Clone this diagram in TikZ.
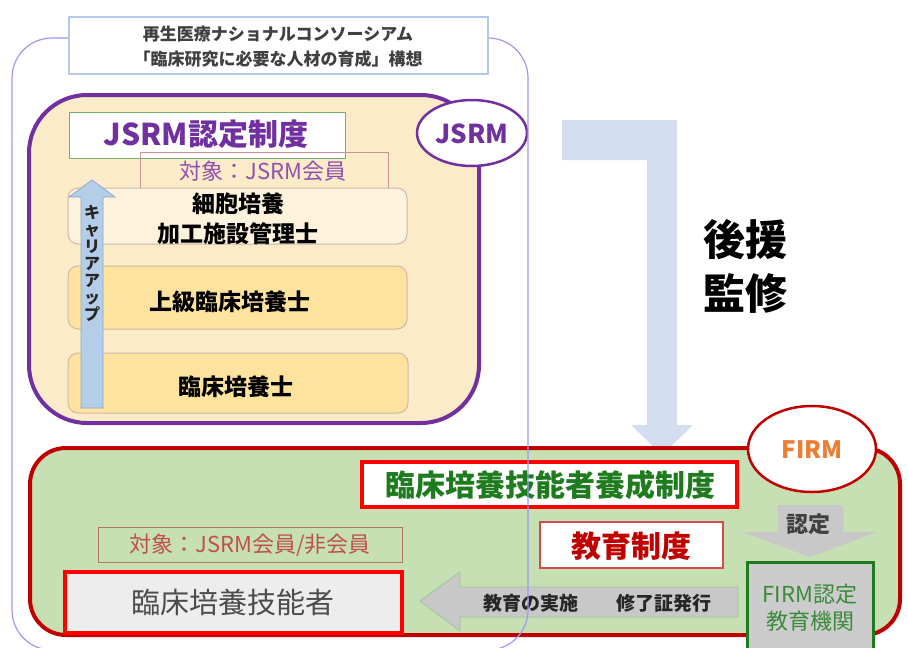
\documentclass[tikz,border=0pt]{standalone}
\usepackage{fontspec}
\setmainfont{Noto Sans CJK JP}
\usetikzlibrary{shapes.geometric}
\definecolor{purp}{HTML}{7030A0}
\definecolor{purpl}{HTML}{9050B0}
\definecolor{peach}{HTML}{FCEBC9}
\definecolor{cream}{HTML}{FDF2DC}
\definecolor{yel}{HTML}{FEE39E}
\definecolor{tan}{HTML}{CDB8A8}
\definecolor{gbox}{HTML}{C6E0B4}
\definecolor{dred}{HTML}{C00000}
\definecolor{bred}{HTML}{FF0000}
\definecolor{dgreen}{HTML}{1E7B1E}
\definecolor{mgreen}{HTML}{3A8A3A}
\definecolor{orng}{HTML}{ED7D31}
\definecolor{lblue}{HTML}{D3DDF0}
\definecolor{cblue}{HTML}{B4CDE8}
\definecolor{cblued}{HTML}{8CA8C8}
\definecolor{outerc}{HTML}{9A9AF0}
\definecolor{titlec}{HTML}{B4C8E8}
\definecolor{grayf}{HTML}{C8C8C8}
\definecolor{brownr}{HTML}{C0504D}
\definecolor{brownb}{HTML}{B07860}
\newcommand{\fsz}[1]{\fontsize{#1}{#1}\selectfont}
\begin{document}
\begin{tikzpicture}[x=1pt,y=-1pt,
  box/.style={draw, rectangle, inner sep=0pt, outer sep=0pt},
  txt/.style={inner sep=0pt, outer sep=0pt, align=center}]
\useasboundingbox (0,0) rectangle (908,648);
\fill[white] (0,0) rectangle (908,648);

% JSRM block
\node[box, draw=purp, line width=4pt, fill=peach, rounded corners=58pt,
  minimum width=450pt, minimum height=328pt] (purple) at (254,259) {};
\node[box, draw=mgreen!70, line width=1pt, fill=white,
  minimum width=276pt, minimum height=46pt] (jsrmbox) at (207,135) {};
\node[txt, font=\fsz{30}\bfseries, text=purp] (jsrmtxt) at (206,134) {JSRM認定制度};
\node[box, draw=tan!80!purple, line width=1pt,
  minimum width=248pt, minimum height=36pt] (taisho1) at (264,170) {};
\node[txt, font=\fsz{22}, text=purpl] (taisho1txt) at (263,171) {対象：JSRM会員};
\node[box, draw=tan, line width=1pt, fill=cream, rounded corners=10pt,
  minimum width=339pt, minimum height=56pt] (saibo) at (237.5,216) {};
\node[txt, font=\fontsize{23}{30}\selectfont\bfseries] (saibotxt) at (238,219) {細胞培養\\加工施設管理士};
\node[box, draw=tan, line width=1pt, fill=yel, rounded corners=10pt,
  minimum width=339pt, minimum height=63pt] (joukyu) at (237.5,297.5) {};
\node[txt, font=\fsz{23}\bfseries] (joukyutxt) at (230,302) {上級臨床培養士};
\node[box, draw=tan, line width=1pt, fill=yel, rounded corners=10pt,
  minimum width=340pt, minimum height=60pt] (rinsho) at (238,383) {};
\node[txt, font=\fsz{23}\bfseries] (rinshotxt) at (236,387) {臨床培養士};
% career up arrow
\draw[fill=cblue, draw=cblued, line width=0.8pt]
  (81,408) -- (81,197) -- (69,197) -- (92,180) -- (115,197) -- (103,197) -- (103,408) -- cycle;
\node[txt, font=\fontsize{16}{17}\selectfont\bfseries, text=black!85] (career) at (92,263)
  {キ\\ャ\\リ\\ア\\ア\\ッ\\プ};
\node[ellipse, draw=purp, line width=2.5pt, fill=white, inner sep=0pt,
  minimum width=110pt, minimum height=66pt] (jsrm) at (472,133) {};
\node[txt, font=\fsz{26}\bfseries, text=purp] (jsrmlbl) at (472,134) {JSRM};

% L-shaped support arrow
\fill[lblue] (562,120) -- (677,120) -- (677,425) -- (693,425) -- (662,455)
  -- (631,425) -- (647,425) -- (647,160) -- (562,160) -- cycle;
\node[txt, font=\fsz{42}\bfseries] (kouen) at (745,240) {後援};
\node[txt, font=\fsz{42}\bfseries] (kanshu) at (745,293) {監修};

% FIRM block
\node[box, draw=dred, line width=4pt, fill=gbox, rounded corners=36pt,
  minimum width=870pt, minimum height=187pt] (green) at (465,541.5) {};
\node[box, draw=bred, line width=4pt, fill=white,
  minimum width=375pt, minimum height=45pt] (yousei) at (549.5,484.5) {};
\node[txt, font=\fsz{30}\bfseries, text=dgreen] (youseitxt) at (550,485) {臨床培養技能者養成制度};
\node[box, draw=dred!70, line width=1.2pt, fill=white,
  minimum width=183pt, minimum height=46pt] (kyouiku) at (631.5,545) {};
\node[txt, font=\fsz{30}\bfseries, text=dred] (kyouikutxt) at (631,546) {教育制度};
\node[box, draw=brownb, line width=1pt,
  minimum width=304pt, minimum height=35pt] (taisho2) at (250,544.5) {};
\node[txt, font=\fsz{22}, text=brownr] (taisho2txt) at (250,545) {対象：JSRM会員/非会員};
\node[box, draw=bred, line width=4pt, fill=black!7,
  minimum width=337pt, minimum height=61pt] (ginousha) at (233.5,602.5) {};
\node[txt, font=\fsz{29}, text=black!70] (ginoushatxt) at (233,602) {臨床培養技能者};
% education arrow
\draw[fill=grayf, draw=mgreen!50, line width=0.8pt]
  (738,587) -- (460,587) -- (460,572) -- (420,601) -- (460,631) -- (460,617) -- (738,617) -- cycle;
\node[txt, font=\fsz{19}\bfseries, text=black!85] (edutxt) at (597,603) {教育の実施\hspace{38pt}修了証発行};
% nintei arrow
\fill[grayf] (778,505) -- (843,505) -- (843,532) -- (877,532) -- (810,557)
  -- (742,532) -- (778,532) -- cycle;
\node[txt, font=\fsz{22}\bfseries, text=black!75] (nintei) at (808,524) {認定};
\node[box, draw=dgreen, line width=3pt, fill=black!20,
  minimum width=126pt, minimum height=110pt, anchor=north west] (firmbox) at (747,562) {};
\node[txt, font=\fontsize{22}{27}\selectfont, text=mgreen] (firmboxtxt) at (810,608) {FIRM認定\\教育機関};
\node[ellipse, draw=dred, line width=2.5pt, fill=white, inner sep=0pt,
  minimum width=128pt, minimum height=86pt] (firm) at (812,449) {};
\node[txt, font=\fsz{24}\bfseries, text=orng] (firmlbl) at (812,450) {FIRM};

% outer consortium frame
\node[box, draw=outerc, line width=1.2pt, rounded corners=40pt,
  minimum width=516pt, minimum height=612pt] (outer) at (270,344) {};
\node[box, draw=titlec, line width=1.2pt, fill=white,
  minimum width=419pt, minimum height=57pt] (title) at (278.5,45.5) {};
\node[txt, font=\fontsize{17}{25}\selectfont\bfseries, text=black!75] (titletxt) at (278,47)
  {再生医療ナショナルコンソーシアム\\「臨床研究に必要な人材の育成」構想};
\end{tikzpicture}
\end{document}
